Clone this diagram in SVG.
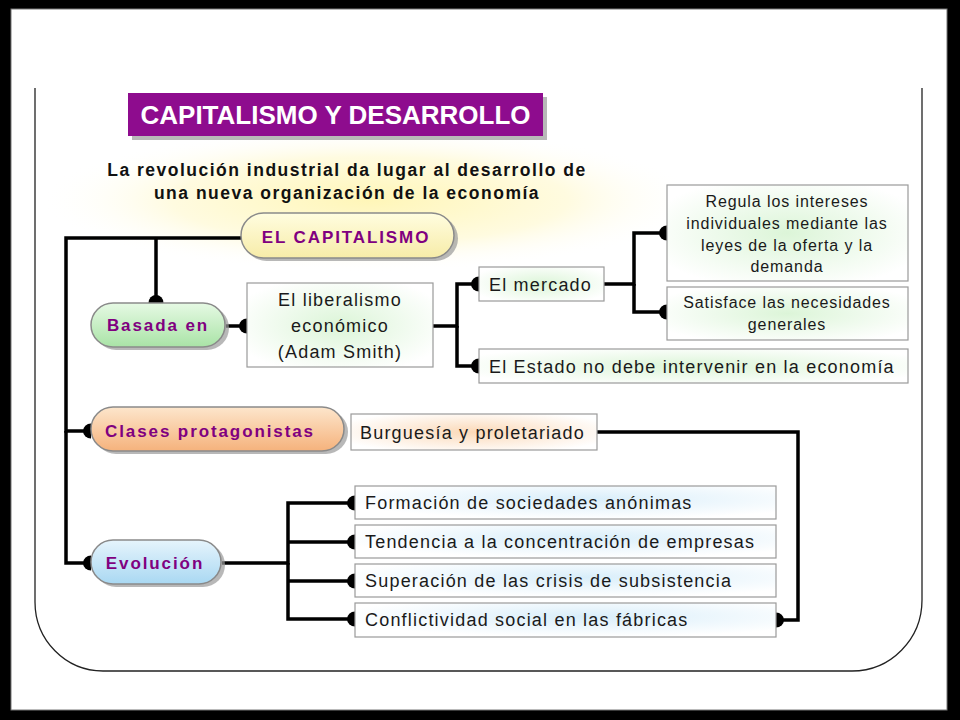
<svg xmlns="http://www.w3.org/2000/svg" width="960" height="720" viewBox="0 0 960 720">
<style>
.pill{stroke:#8a8a8a;stroke-width:1.5}
.ptxt{font-family:"Liberation Sans",Arial,sans-serif;font-weight:bold;font-size:17px;fill:#800080;letter-spacing:1.9px}
.box{stroke:#9a9a9a;stroke-width:1.2}
.btxt{font-family:"Liberation Sans",Arial,sans-serif;font-size:18px;fill:#1a1a1a;letter-spacing:1.2px}
.stxt{font-family:"Liberation Sans",Arial,sans-serif;font-size:16px;fill:#1a1a1a;letter-spacing:0.9px}
.shadow{fill:#9a9a9a;opacity:0.7}
.con{fill:none;stroke:#000;stroke-width:3.5;stroke-linejoin:miter;marker-end:url(#dome)}
</style>
<defs>
<marker id="dome" markerUnits="userSpaceOnUse" viewBox="-9 -9 18 18" markerWidth="18" markerHeight="18" refX="0" refY="0" orient="auto" overflow="visible">
<path d="M0,-7.5 A8,7.5 0 0 0 0,7.5 Z" fill="#000"/>
</marker>
<radialGradient id="yglow" cx="0.5" cy="0.5" r="0.5">
<stop offset="0" stop-color="#fff6b8"/>
<stop offset="0.6" stop-color="#fffbe0"/>
<stop offset="1" stop-color="#ffffff" stop-opacity="0"/>
</radialGradient>
<linearGradient id="gYel" x1="0" y1="0" x2="0" y2="1">
<stop offset="0" stop-color="#fffde0"/>
<stop offset="1" stop-color="#f7eca8"/>
</linearGradient>
<linearGradient id="gGrn" x1="0" y1="0" x2="0" y2="1">
<stop offset="0" stop-color="#e6f9e4"/>
<stop offset="1" stop-color="#a9e3a6"/>
</linearGradient>
<linearGradient id="gOra" x1="0" y1="0" x2="0" y2="1">
<stop offset="0" stop-color="#fde6cc"/>
<stop offset="1" stop-color="#f5b27c"/>
</linearGradient>
<linearGradient id="gBlu" x1="0" y1="0" x2="0" y2="1">
<stop offset="0" stop-color="#e6f4fc"/>
<stop offset="1" stop-color="#a9d8f2"/>
</linearGradient>
<radialGradient id="bGrn" cx="0.5" cy="0.5" r="0.6">
<stop offset="0" stop-color="#dcf5d8"/>
<stop offset="1" stop-color="#ffffff"/>
</radialGradient>
<radialGradient id="bOra" cx="0.5" cy="0.5" r="0.6">
<stop offset="0" stop-color="#fbd9b8"/>
<stop offset="1" stop-color="#ffffff"/>
</radialGradient>
<radialGradient id="bBlu" cx="0.55" cy="0.4" r="0.6">
<stop offset="0" stop-color="#d9eefa"/>
<stop offset="1" stop-color="#ffffff"/>
</radialGradient>
</defs>

<!-- frame -->
<rect x="0" y="0" width="960" height="720" fill="#000"/>
<rect x="11" y="9" width="936" height="701" fill="#fff" stroke="#777" stroke-width="1"/>
<path d="M35,88 V602 A68,69 0 0 0 103,671 H852 A70,71 0 0 0 922,600 V88" fill="none" stroke="#222" stroke-width="1.3"/>

<!-- glow -->
<ellipse cx="370" cy="200" rx="330" ry="72" fill="url(#yglow)"/>

<g id="title">
<rect x="132" y="97" width="415" height="43" class="shadow"/>
<rect x="128" y="93" width="415" height="43" fill="#8e0c8e"/>
<text x="335.5" y="124" text-anchor="middle" font-family="Liberation Sans,Arial,sans-serif" font-weight="bold" font-size="26" fill="#fff">CAPITALISMO Y DESARROLLO</text>
</g>

<g id="subtitle">
<text x="347" y="176" text-anchor="middle" font-family="Liberation Sans,Arial,sans-serif" font-weight="bold" font-size="17.5" fill="#111" letter-spacing="1.5">La revolución industrial da lugar al desarrollo de</text>
<text x="347" y="199" text-anchor="middle" font-family="Liberation Sans,Arial,sans-serif" font-weight="bold" font-size="17.5" fill="#111" letter-spacing="1.5">una nueva organización de la economía</text>
</g>

<g id="connectors">
<path class="con" d="M241,238 H66 V431 H91"/>
<path class="con" d="M66,431 V563 H91"/>
<path class="con" d="M156,238 V303"/>
<path class="con" d="M226,326 H247"/>
<path class="con" d="M433,326 H457 V284 H479"/>
<path class="con" d="M457,326 V366 H479"/>
<path class="con" d="M604,284 H634 V233 H667"/>
<path class="con" d="M634,284 V312 H667"/>
<path class="con" d="M597,432 H798 V620 H776"/>
<path class="con" d="M222,563 H288 V503 H355"/>
<path class="con" d="M288,542 H355"/>
<path class="con" d="M288,581 H355"/>
<path class="con" d="M288,563 V619 H355"/>
</g>

<g id="n-capitalismo">
<rect x="244" y="216" width="214" height="45" rx="22.5" class="shadow"/>
<rect x="241" y="213" width="213" height="45" rx="22.5" fill="url(#gYel)" class="pill"/>
<text x="346" y="243" text-anchor="middle" class="ptxt" font-size="17.5" letter-spacing="2.4">EL CAPITALISMO</text>
</g>

<g id="n-basada">
<rect x="94" y="306" width="135" height="44" rx="22" class="shadow"/>
<rect x="91" y="303" width="134" height="44" rx="22" fill="url(#gGrn)" class="pill"/>
<text x="158" y="331" text-anchor="middle" class="ptxt">Basada en</text>
</g>

<g id="n-clases">
<rect x="94" y="410" width="254" height="44" rx="22" class="shadow"/>
<rect x="91" y="407" width="253" height="44" rx="22" fill="url(#gOra)" class="pill"/>
<text x="210" y="437" text-anchor="middle" class="ptxt">Clases protagonistas</text>
</g>

<g id="n-evolucion">
<rect x="94" y="543" width="131" height="44" rx="22" class="shadow"/>
<rect x="91" y="540" width="130" height="44" rx="22" fill="url(#gBlu)" class="pill"/>
<text x="155" y="569" text-anchor="middle" class="ptxt">Evolución</text>
</g>

<g id="n-liberalismo">
<rect x="247" y="283" width="186" height="84" fill="url(#bGrn)" class="box"/>
<text x="340" y="306" text-anchor="middle" class="btxt">El liberalismo</text>
<text x="340" y="332" text-anchor="middle" class="btxt">económico</text>
<text x="340" y="358" text-anchor="middle" class="btxt">(Adam Smith)</text>
</g>

<g id="n-mercado">
<rect x="479" y="267" width="125" height="34" fill="url(#bGrn)" class="box"/>
<text x="489" y="291" class="btxt">El mercado</text>
</g>

<g id="n-regula">
<rect x="667" y="185" width="241" height="96" fill="url(#bGrn)" class="box"/>
<text x="787" y="207" text-anchor="middle" class="stxt">Regula los intereses</text>
<text x="787" y="229" text-anchor="middle" class="stxt">individuales mediante las</text>
<text x="787" y="251" text-anchor="middle" class="stxt">leyes de la oferta y la</text>
<text x="787" y="272" text-anchor="middle" class="stxt">demanda</text>
</g>

<g id="n-satisface">
<rect x="667" y="287" width="241" height="53" fill="url(#bGrn)" class="box"/>
<text x="787" y="308" text-anchor="middle" class="stxt">Satisface las necesidades</text>
<text x="787" y="330" text-anchor="middle" class="stxt">generales</text>
</g>

<g id="n-estado">
<rect x="479" y="349" width="429" height="34" fill="url(#bGrn)" class="box"/>
<text x="489" y="373" class="btxt">El Estado no debe intervenir en la economía</text>
</g>

<g id="n-burguesia">
<rect x="351" y="414" width="246" height="36" fill="url(#bOra)" class="box"/>
<text x="360" y="439" class="btxt">Burguesía y proletariado</text>
</g>

<g id="n-formacion">
<rect x="355" y="486" width="421" height="33" fill="url(#bBlu)" class="box"/>
<text x="365" y="509" class="btxt">Formación de sociedades anónimas</text>
</g>
<g id="n-tendencia">
<rect x="355" y="525" width="421" height="33" fill="url(#bBlu)" class="box"/>
<text x="365" y="548" class="btxt">Tendencia a la concentración de empresas</text>
</g>
<g id="n-superacion">
<rect x="355" y="564" width="421" height="33" fill="url(#bBlu)" class="box"/>
<text x="365" y="587" class="btxt">Superación de las crisis de subsistencia</text>
</g>
<g id="n-conflictividad">
<rect x="355" y="603" width="421" height="34" fill="url(#bBlu)" class="box"/>
<text x="365" y="626" class="btxt">Conflictividad social en las fábricas</text>
</g>
</svg>
